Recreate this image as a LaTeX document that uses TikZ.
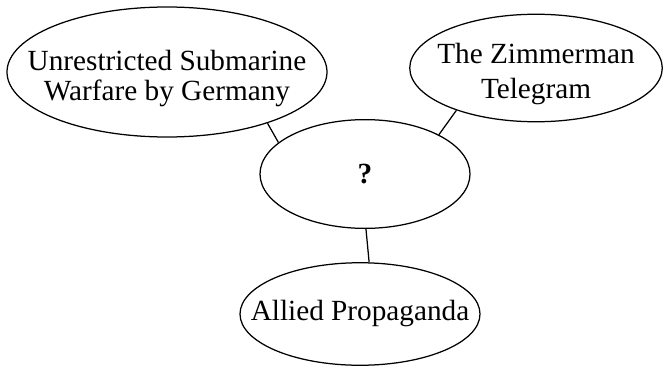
\documentclass[tikz,border=0pt]{standalone}
\usepackage{fontspec}
\setmainfont{Liberation Serif}
\usetikzlibrary{shapes.geometric}

\begin{document}
\begin{tikzpicture}[x=0.4pt,y=-0.4pt,
	bubble/.style={ellipse, draw, line width=0.5pt, inner sep=0pt},
	every label/.style={align=center, inner sep=0pt, font=\fontsize{11.7}{13}\selectfont}]
	\useasboundingbox (0,0) rectangle (664,366);
	\node [bubble, minimum width=128pt, minimum height=52pt,
		label={[font=\fontsize{11.7}{12}\selectfont, yshift=-2.6pt]center:Unrestricted Submarine\\Warfare by Germany}] (UB) at (167,72) {};
	\node [bubble, minimum width=101pt, minimum height=43pt,
		label={[font=\fontsize{11.7}{14}\selectfont, yshift=-2.6pt]center:The Zimmerman\\Telegram}] (ZT) at (536,68) {};
	\node [bubble, minimum width=84pt, minimum height=43.5pt,
		label={center:\textbf{?}}] (Q) at (365,174) {};
	\node [bubble, minimum width=96pt, minimum height=41pt,
		label={center:Allied Propaganda}] (AP) at (360,314) {};
	\draw [line width=0.5pt] (UB.-27.5) -- (Q.160);
	\draw [line width=0.5pt] (ZT.-152) -- (Q.28);
	\draw [line width=0.5pt] (Q.-89) -- (AP.80);
\end{tikzpicture}
\end{document}
